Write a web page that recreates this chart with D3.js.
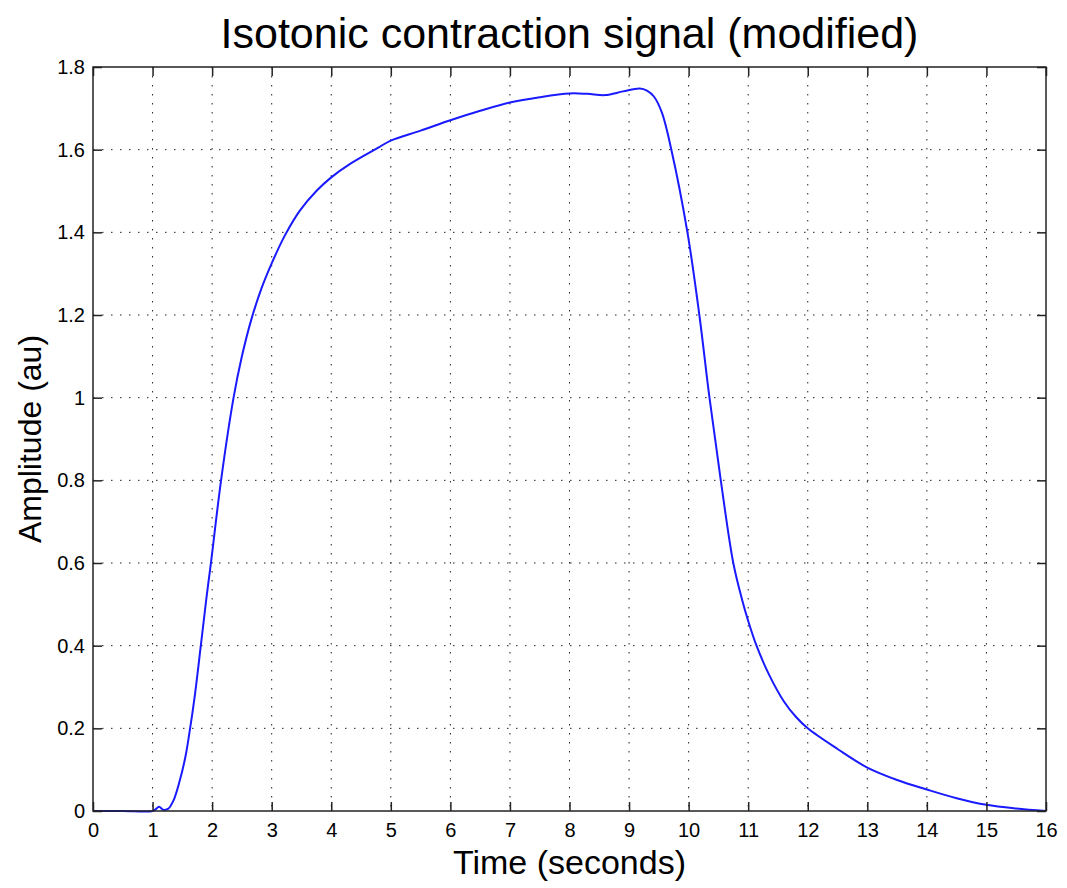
<!DOCTYPE html>
<html>
<head>
<meta charset="utf-8">
<script src="https://cdn.jsdelivr.net/npm/d3@7"></script>
<style>
  html, body { margin: 0; padding: 0; background: #fff; }
  svg { display: block; }
  text { font-family: Arial, "Liberation Sans", sans-serif; fill: #000; }
</style>
</head>
<body>
<svg id="chart" width="1067" height="888"></svg>
<script>
// Sample times (s) and measured amplitude (au)
const timeSec = [0, 0.5, 1.0, 1.05, 1.11, 1.18, 1.26, 1.35, 1.45, 1.55, 1.62, 1.71, 1.81, 1.9, 1.98,
  2.15, 2.36, 2.5, 2.66, 2.83, 3.0, 3.22, 3.47, 3.75, 4.0, 4.31, 4.79, 5.0, 5.5, 6.0, 6.5, 7.0, 7.5, 8.0,
  8.3, 8.6, 8.9, 9.18, 9.3, 9.42, 9.55, 9.71, 9.98, 10.18, 10.35, 10.54, 10.75, 10.9, 11.0, 11.14, 11.35,
  11.6, 11.8, 12.0, 12.5, 13.0, 13.5, 14.0, 14.5, 15.0, 15.5, 16.0];
const amplitude = [0, 0, 0, 0.004, 0.01, 0.003, 0.005, 0.025, 0.07, 0.13, 0.19, 0.28, 0.4, 0.51, 0.6,
  0.8, 1.0, 1.1, 1.19, 1.265, 1.325, 1.392, 1.452, 1.50, 1.533, 1.565, 1.605, 1.622, 1.646, 1.671, 1.694, 1.714, 1.727, 1.736,
  1.735, 1.732, 1.741, 1.748, 1.743, 1.728, 1.69, 1.6, 1.4, 1.2, 1.0, 0.8, 0.6, 0.51, 0.46, 0.4, 0.33,
  0.265, 0.228, 0.2, 0.15, 0.105, 0.075, 0.052, 0.031, 0.015, 0.006, 0];

const xTicks = d3.range(0, 17, 1);
const yTicks = [0, 0.2, 0.4, 0.6, 0.8, 1, 1.2, 1.4, 1.6, 1.8];

const titleText = "Isotonic contraction signal (modified)";
const xLabel = "Time (seconds)";
const yLabel = "Amplitude (au)";

const svg = d3.select("#chart");
const m = { left: 93, right: 1046, top: 67, bottom: 811 };

const x = d3.scaleLinear().domain([0, 16]).range([m.left, m.right]);
const y = d3.scaleLinear().domain([0, 1.8]).range([m.bottom, m.top]);

// dotted grid
const grid = svg.append("g")
  .attr("stroke", "#222")
  .attr("stroke-width", 1)
  .attr("stroke-dasharray", "1.5,7.5");
grid.selectAll("line.vx").data(xTicks.slice(1, -1)).join("line")
  .attr("x1", d => x(d)).attr("x2", d => x(d))
  .attr("y1", m.top).attr("y2", m.bottom);
grid.selectAll("line.hy").data(yTicks.slice(1, -1)).join("line")
  .attr("class", "hy")
  .attr("x1", m.left).attr("x2", m.right)
  .attr("y1", d => y(d)).attr("y2", d => y(d));

// signal
const line = d3.line()
  .x((d, i) => x(timeSec[i]))
  .y(d => y(d))
  .curve(d3.curveCatmullRom.alpha(0.5));
svg.append("path")
  .datum(amplitude)
  .attr("d", line)
  .attr("fill", "none")
  .attr("stroke", "#1a1aff")
  .attr("stroke-width", 2);

// axes with inward ticks on all four sides
const tickLen = 9;
const fmt = d => d3.format("")(+d.toFixed(1));
svg.append("g").attr("transform", `translate(0,${m.bottom})`)
  .call(d3.axisBottom(x).tickValues(xTicks).tickSize(-tickLen).tickPadding(12).tickFormat(d3.format("d")))
  .call(g => g.select(".domain").remove());
svg.append("g").attr("transform", `translate(0,${m.top})`)
  .call(d3.axisTop(x).tickValues(xTicks).tickSize(-tickLen).tickFormat(""))
  .call(g => g.select(".domain").remove());
svg.append("g").attr("transform", `translate(${m.left},0)`)
  .call(d3.axisLeft(y).tickValues(yTicks).tickSize(-tickLen).tickPadding(8).tickFormat(fmt))
  .call(g => g.select(".domain").remove());
svg.append("g").attr("transform", `translate(${m.right},0)`)
  .call(d3.axisRight(y).tickValues(yTicks).tickSize(-tickLen).tickFormat(""))
  .call(g => g.select(".domain").remove());

svg.selectAll(".tick line").attr("stroke", "#222").attr("stroke-width", 1.5);
svg.selectAll(".tick text")
  .attr("font-size", 20)
  .attr("font-family", "Arial, 'Liberation Sans', sans-serif")
  .attr("fill", "#111");

// frame
svg.append("rect")
  .attr("x", m.left).attr("y", m.top)
  .attr("width", m.right - m.left).attr("height", m.bottom - m.top)
  .attr("fill", "none").attr("stroke", "#222").attr("stroke-width", 1.5);

// labels
svg.append("text")
  .attr("x", (m.left + m.right) / 2).attr("y", 48)
  .attr("text-anchor", "middle").attr("font-size", 43)
  .text(titleText);
svg.append("text")
  .attr("x", (m.left + m.right) / 2).attr("y", 874)
  .attr("text-anchor", "middle").attr("font-size", 34)
  .text(xLabel);
svg.append("text")
  .attr("transform", `translate(41,${(m.top + m.bottom) / 2}) rotate(-90)`)
  .attr("text-anchor", "middle").attr("font-size", 32)
  .text(yLabel);
</script>
</body>
</html>
